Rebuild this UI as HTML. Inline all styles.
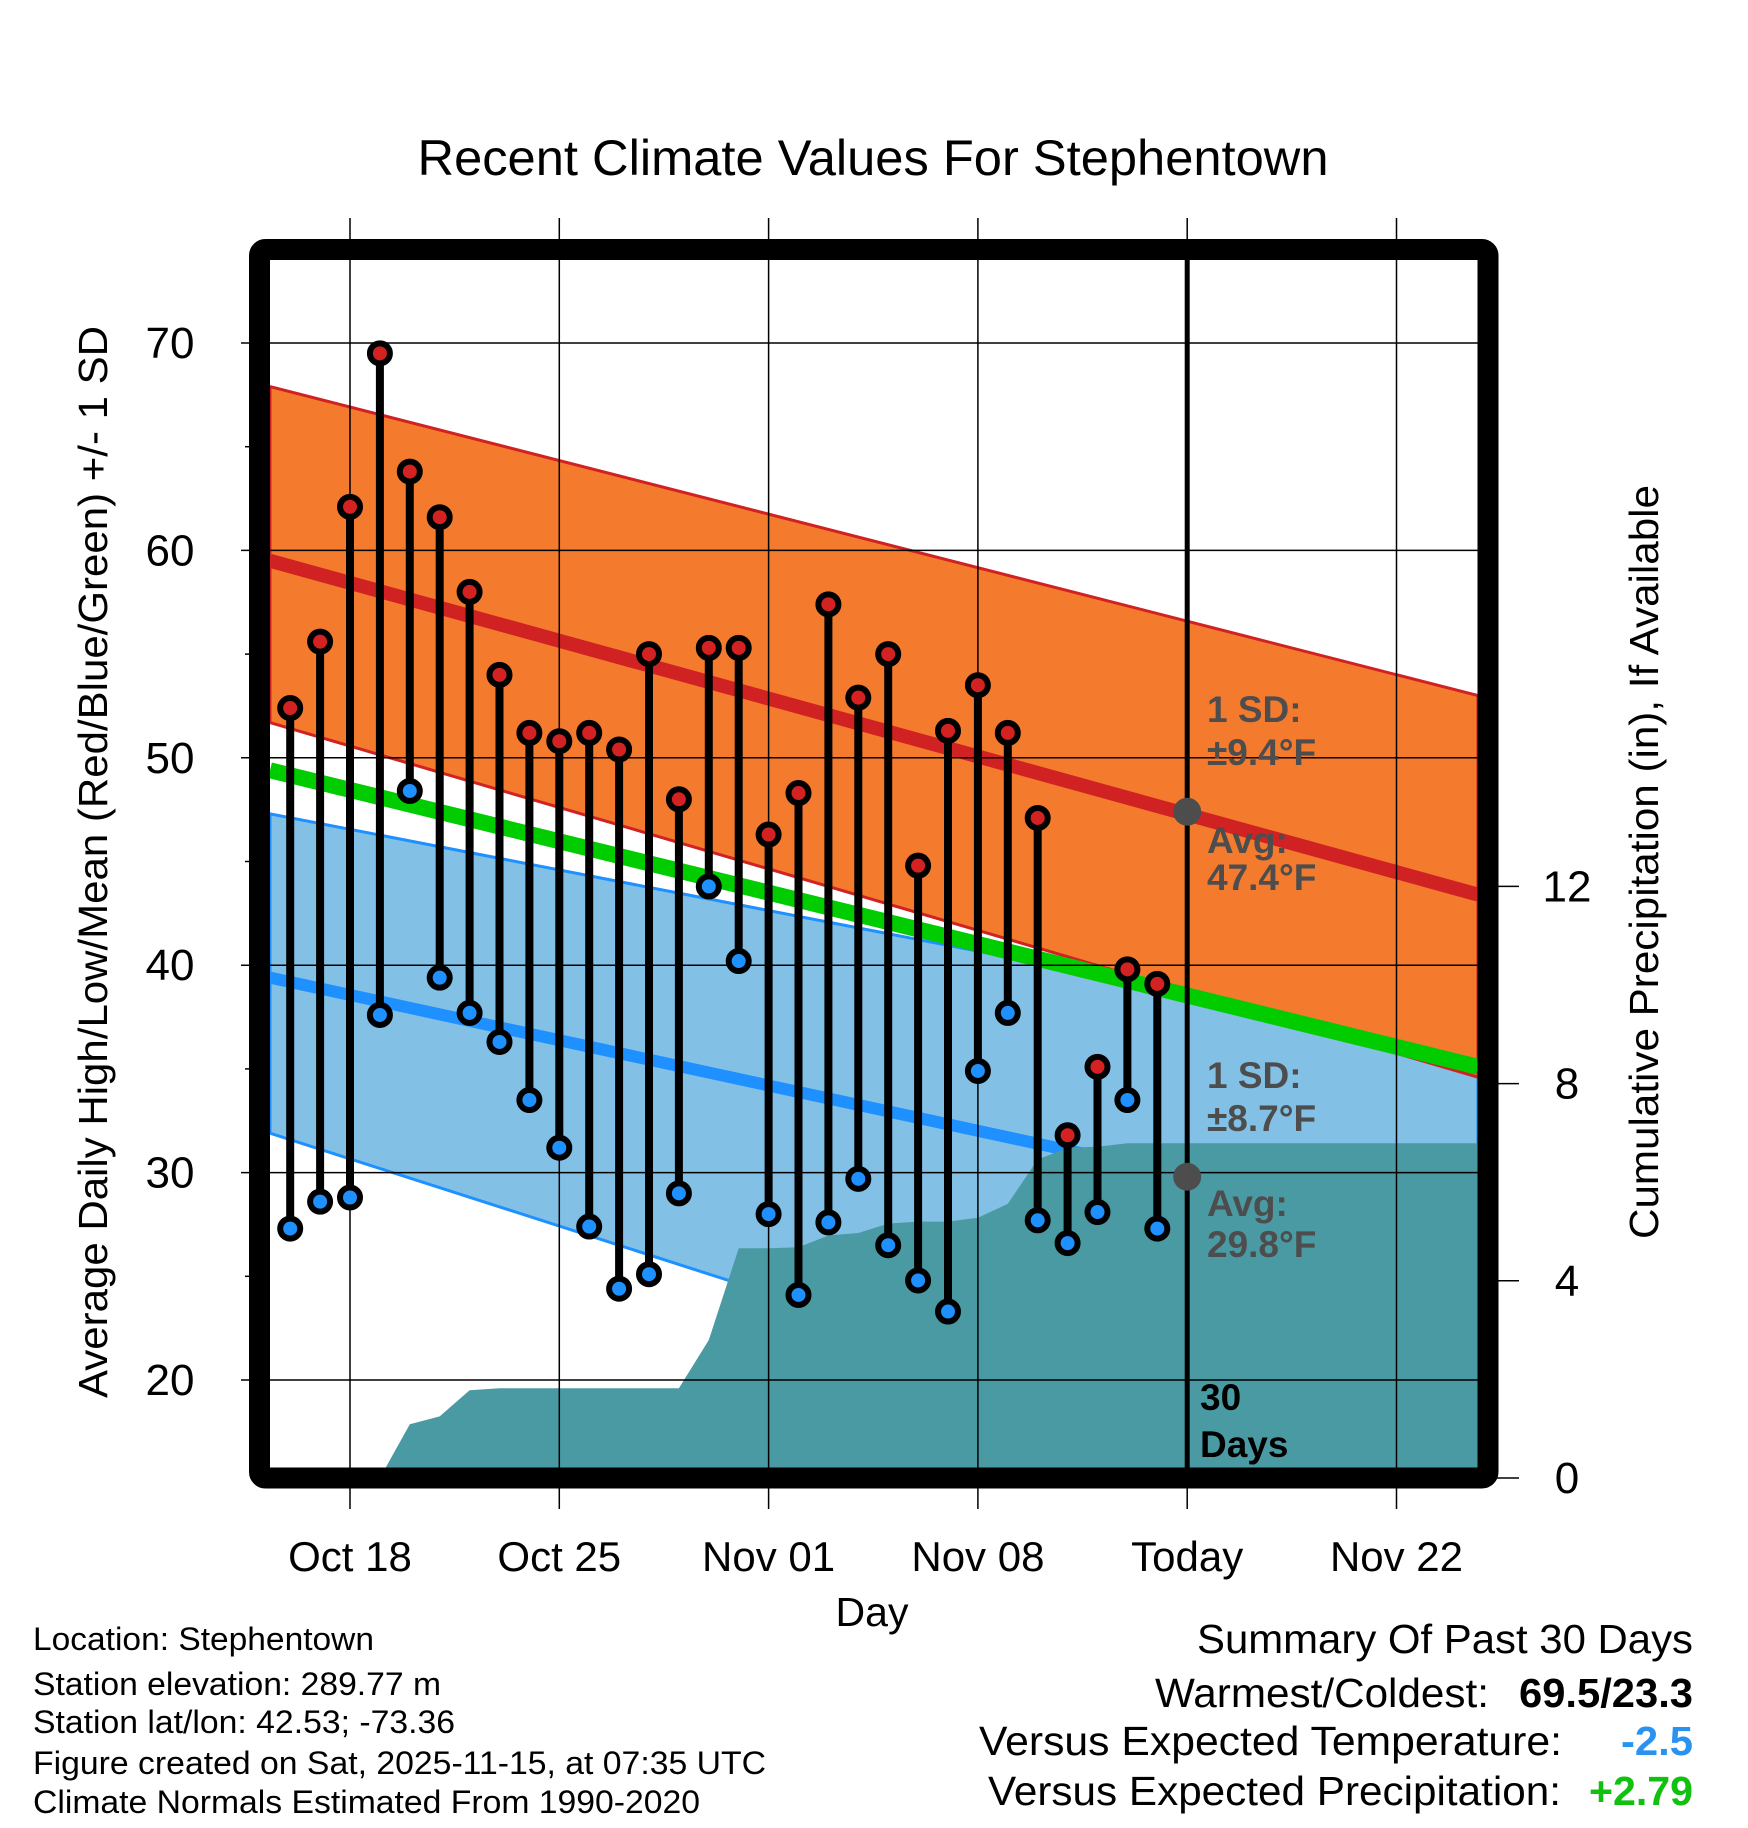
<!DOCTYPE html>
<html><head><meta charset="utf-8"><style>
html,body{margin:0;padding:0;background:#fff;}
svg{display:block;font-family:"Liberation Sans",Arial,sans-serif;}
</style></head><body>
<svg id="chart" width="1748" height="1828" viewBox="0 0 1748 1828" xmlns="http://www.w3.org/2000/svg">
<defs><clipPath id="plotclip"><rect x="270" y="260" width="1208" height="1208"/></clipPath></defs>
<text x="873" y="175" font-size="50" text-anchor="middle" textLength="911" lengthAdjust="spacingAndGlyphs">Recent Climate Values For Stephentown</text>
<g id="plot" clip-path="url(#plotclip)"></g>
<g id="axes"></g>
<text x="872" y="1626" font-size="41" text-anchor="middle">Day</text>
<text transform="translate(107,862) rotate(-90)" font-size="41" text-anchor="middle" textLength="1072" lengthAdjust="spacingAndGlyphs">Average Daily High/Low/Mean (Red/Blue/Green) +/- 1 SD</text>
<text transform="translate(1658,862) rotate(-90)" font-size="41" text-anchor="middle" textLength="754" lengthAdjust="spacingAndGlyphs">Cumulative Precipitation (in), If Available</text>
<g font-size="32">
<text x="33" y="1650" textLength="341" lengthAdjust="spacingAndGlyphs">Location: Stephentown</text>
<text x="33" y="1695" textLength="408" lengthAdjust="spacingAndGlyphs">Station elevation: 289.77 m</text>
<text x="33" y="1733" textLength="422" lengthAdjust="spacingAndGlyphs">Station lat/lon: 42.53; -73.36</text>
<text x="33" y="1774" textLength="733" lengthAdjust="spacingAndGlyphs">Figure created on Sat, 2025-11-15, at 07:35 UTC</text>
<text x="33" y="1813" textLength="667" lengthAdjust="spacingAndGlyphs">Climate Normals Estimated From 1990-2020</text>
</g>
<g font-size="41">
<text x="1197" y="1653" textLength="496" lengthAdjust="spacingAndGlyphs">Summary Of Past 30 Days</text>
<text x="1155" y="1707" textLength="334" lengthAdjust="spacingAndGlyphs">Warmest/Coldest:</text>
<text x="1519" y="1707" font-weight="bold" textLength="174" lengthAdjust="spacingAndGlyphs">69.5/23.3</text>
<text x="979" y="1755" textLength="583" lengthAdjust="spacingAndGlyphs">Versus Expected Temperature:</text>
<text x="1621" y="1755" font-weight="bold" fill="#2a93f0" textLength="72" lengthAdjust="spacingAndGlyphs">-2.5</text>
<text x="988" y="1805" textLength="573" lengthAdjust="spacingAndGlyphs">Versus Expected Precipitation:</text>
<text x="1589" y="1805" font-weight="bold" fill="#11c011" textLength="104" lengthAdjust="spacingAndGlyphs">+2.79</text>
</g>
</svg>
<script>
const days = ['Oct 16','Oct 17','Oct 18','Oct 19','Oct 20','Oct 21','Oct 22','Oct 23','Oct 24','Oct 25','Oct 26','Oct 27','Oct 28','Oct 29','Oct 30','Oct 31','Nov 01','Nov 02','Nov 03','Nov 04','Nov 05','Nov 06','Nov 07','Nov 08','Nov 09','Nov 10','Nov 11','Nov 12','Nov 13','Nov 14'];
const highs = [52.4,55.6,62.1,69.5,63.8,61.6,58.0,54.0,51.2,50.8,51.2,50.4,55.0,48.0,55.3,55.3,46.3,48.3,57.4,52.9,55.0,44.8,51.3,53.5,51.2,47.1,31.8,35.1,39.8,39.1];
const lows = [27.3,28.6,28.8,37.6,48.4,39.4,37.7,36.3,33.5,31.2,27.4,24.4,25.1,29.0,43.8,40.2,28.0,24.1,27.6,29.7,26.5,24.8,23.3,34.9,37.7,27.7,26.6,28.1,33.5,27.3];
const precip = [0,0,0,0,1.09,1.25,1.78,1.82,1.82,1.82,1.82,1.82,1.82,1.82,2.8,4.66,4.66,4.68,4.92,4.97,5.16,5.2,5.2,5.28,5.56,6.46,6.7,6.72,6.79,6.79];
const highAvgEnds = [59.5,43.4];
const highTopEnds = [67.9,53.0];
const highBotEnds = [51.7,34.6];
const meanEnds = [49.4,35.1];
const lowAvgEnds = [39.4,26.8];
const lowTopEnds = [47.3,36.0];
const lowBotEnds = [31.9,13.2];
const xTickDays = [0,7,14,21,28,35];
const xTickLabels = ['Oct 18','Oct 25','Nov 01','Nov 08','Today','Nov 22'];
const yTicks = [20,30,40,50,60,70];
const y2Ticks = [0,4,8,12];

const NS='http://www.w3.org/2000/svg';
const X0=270,X1=1478,Y0=260,Y1=1468;
const dayL=-2.676, dayR=37.726;
function xs(d){return 350+29.9*d;}
function ys(t){return 343+(70-t)*20.74;}
function yp(p){return 1478-p*49.3;}
const plot=document.getElementById('plot'), axes=document.getElementById('axes');
function mk(tag,attrs,parent){const e=document.createElementNS(NS,tag);for(const k in attrs)e.setAttribute(k,attrs[k]);parent.appendChild(e);return e;}
function band(top,bot,fill,stroke,name){
  const p=mk('polygon',{points:`${xs(dayL)},${ys(top[0])} ${xs(dayR)},${ys(top[1])} ${xs(dayR)},${ys(bot[1])} ${xs(dayL)},${ys(bot[0])}`,fill:fill,stroke:stroke,'stroke-width':3},plot);
  
  
}
function line(ends,color,w,name){
  const l=mk('line',{x1:xs(dayL),y1:ys(ends[0]),x2:xs(dayR),y2:ys(ends[1]),stroke:color,'stroke-width':w},plot);
  
  
}
band(lowTopEnds,lowBotEnds,'#82c0e6','#1e90ff','low-sd-band');
band(highTopEnds,highBotEnds,'#f47a2e','#d02222','high-sd-band');
line(meanEnds,'#00cc00',16,'mean-normal-line');
line(highAvgEnds,'#d02222',14,'high-normal-line');
line(lowAvgEnds,'#1e90ff',12,'low-normal-line');
let pts='';
precip.forEach((v,i)=>{pts+=`${xs(i-2)},${yp(v)} `;});
pts+=`${xs(dayR)},${yp(precip[precip.length-1])} ${xs(dayR)},${yp(0)+20} ${xs(-2)},${yp(0)+20}`;
const pa=mk('polygon',{points:pts,fill:'#4a9aa4'},plot);


xTickDays.forEach(d=>{const g=mk('line',{x1:xs(d),y1:218,x2:xs(d),y2:1509,stroke:'#000','stroke-width':1.5},axes);

});
yTicks.forEach(t=>{const g=mk('line',{x1:241,y1:ys(t),x2:X1,y2:ys(t),stroke:'#000','stroke-width':1.5},axes);


const tx=mk('text',{x:170,y:ys(t)+15,'font-size':44,'text-anchor':'middle'},axes);tx.textContent=t;

});
[25,35,45,55,65].forEach(t=>{mk('line',{x1:245,y1:ys(t),x2:255,y2:ys(t),stroke:'#000','stroke-width':1.5},axes);});
y2Ticks.forEach(p=>{const g=mk('line',{x1:1488,y1:yp(p),x2:1519,y2:yp(p),stroke:'#000','stroke-width':1.5},axes);


const tx=mk('text',{x:1567,y:yp(p)+15,'font-size':44,'text-anchor':'middle'},axes);tx.textContent=p;

});
xTickDays.forEach((d,i)=>{const tx=mk('text',{x:xs(d),y:1571,'font-size':42,'text-anchor':'middle'},axes);tx.textContent=xTickLabels[i];

});
const tl=mk('line',{x1:xs(28),y1:Y0,x2:xs(28),y2:Y1,stroke:'#000','stroke-width':5},axes);


const ann=[['1 SD:',722],['\u00b19.4\u00b0F',765],['Avg:',853],['47.4\u00b0F',890],['1 SD:',1088],['\u00b18.7\u00b0F',1131],['Avg:',1216],['29.8\u00b0F',1257]];
ann.forEach(a=>{const tx=mk('text',{x:1207,y:a[1],'font-size':37,'font-weight':'bold',fill:'#4d4d4d'},axes);tx.textContent=a[0];

});
[47.4,29.8].forEach(v=>{const c=mk('circle',{cx:xs(28),cy:ys(v),r:14,fill:'#4d4d4d'},axes);

});
[['30',1410],['Days',1457]].forEach(a=>{const tx=mk('text',{x:1200,y:a[1],'font-size':37,'font-weight':'bold'},axes);tx.textContent=a[0];

});
days.forEach((d,i)=>{
  const x=xs(i-2);
  const s=mk('line',{x1:x,y1:ys(highs[i]),x2:x,y2:ys(lows[i]),stroke:'#000','stroke-width':8},axes);
  
  
  const h=mk('circle',{cx:x,cy:ys(highs[i]),r:10,fill:'#d42222',stroke:'#000','stroke-width':6},axes);
  
  
  const l=mk('circle',{cx:x,cy:ys(lows[i]),r:10,fill:'#1e90ff',stroke:'#000','stroke-width':6},axes);
  
  
});
const fr=mk('rect',{x:259.5,y:249.5,width:1228.5,height:1228.5,fill:'none',stroke:'#000','stroke-width':21,rx:6},axes);


</script>
</body></html>
